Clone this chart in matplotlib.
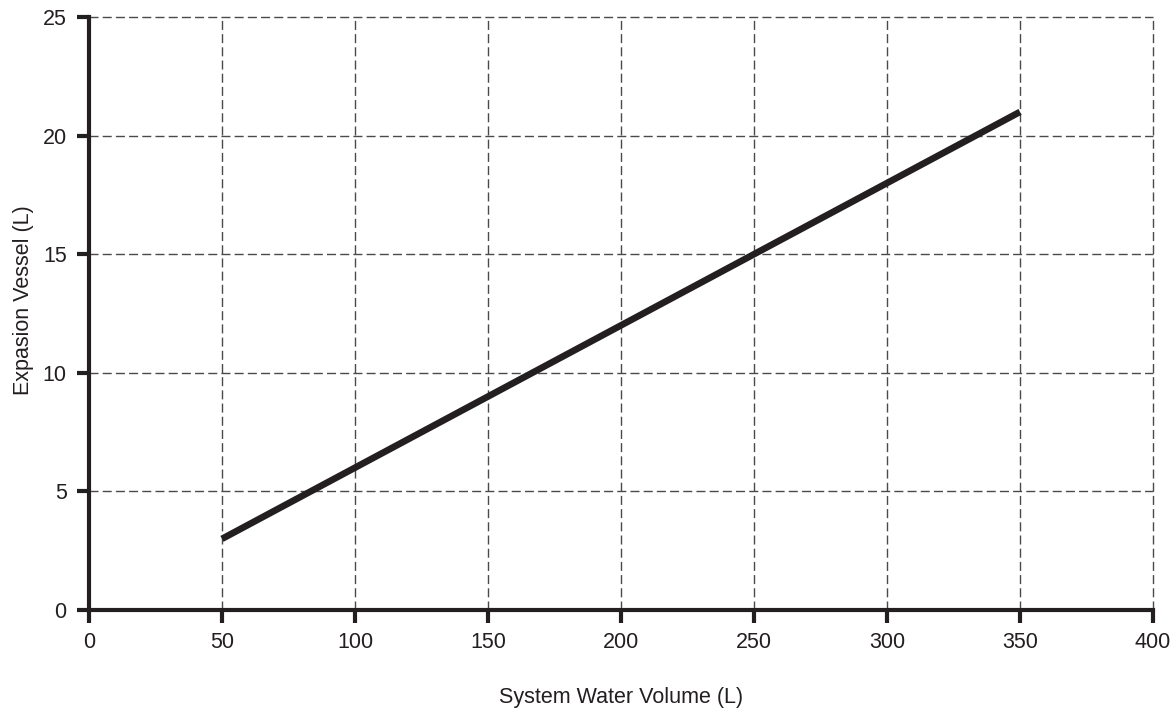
import matplotlib
matplotlib.use("Agg")
import matplotlib.pyplot as plt

system_volume = [50, 350]
vessel_size = [3, 21]
x_ticks = [0, 50, 100, 150, 200, 250, 300, 350, 400]
y_ticks = [0, 5, 10, 15, 20, 25]

plt.rcParams['font.family'] = ['Liberation Sans', 'DejaVu Sans']
ink = '#231f20'

fig = plt.figure(figsize=(11.72, 7.09), dpi=100)
ax = fig.add_axes([0.0759, 0.1396, 0.9079, 0.8364])

ax.plot(system_volume, vessel_size, color=ink, lw=4.8, solid_capstyle='butt', zorder=3)

ax.set_xlim(0, 400)
ax.set_ylim(0, 25)
ax.set_xticks(x_ticks)
ax.set_yticks(y_ticks)
ax.grid(True, color='#4a4a4a', linestyle=(0, (6.5, 3)), linewidth=1, zorder=1)

for s in ['top', 'right']:
    ax.spines[s].set_visible(False)
for s in ['left', 'bottom']:
    ax.spines[s].set_color(ink)
    ax.spines[s].set_linewidth(3)
    ax.spines[s].set_zorder(4)

ax.tick_params(axis='both', direction='out', length=9, width=3, color=ink,
               labelsize=15.5, labelcolor=ink, pad=7)
ax.set_xlabel('System Water Volume (L)', fontsize=15.5, color=ink, labelpad=24)
ax.set_ylabel('Expasion Vessel (L)', fontsize=15.5, color=ink, labelpad=6)
ax.yaxis.label.set_y(0.523)
for t in ax.get_xgridlines() + ax.get_ygridlines():
    t.set_clip_on(False)

fig.savefig('out.png', dpi=100)
